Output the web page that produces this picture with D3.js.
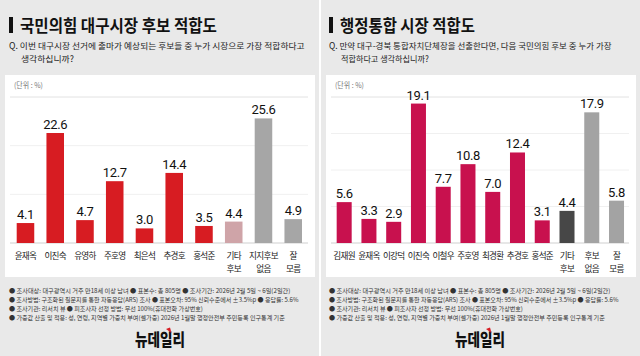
<!DOCTYPE html>
<html><head><meta charset="utf-8">
<script src="https://cdn.jsdelivr.net/npm/d3@7"></script>
<style>
html,body{margin:0;padding:0;background:#e9e9e9;}
svg{display:block;font-family:"Noto Sans CJK KR","Noto Sans",sans-serif;}
</style></head>
<body>
<svg id="chart" width="640" height="356"></svg>
<script>
// ---- data ----
const leftTitle = "국민의힘 대구시장 후보 적합도";
const leftQuestion = ["Q. 이번 대구시장 선거에 출마가 예상되는 후보들 중 누가 시장으로 가장 적합하다고", "생각하십니까?"];
const leftCategories = ["윤재옥","이진숙","유영하","주호영","최은석","추경호","홍석준","기타\n후보","지지후보\n없음","잘\n모름"];
const leftValues = [4.1, 22.6, 4.7, 12.7, 3.0, 14.4, 3.5, 4.4, 25.6, 4.9];
const leftColors = ["#d71c22","#d71c22","#d71c22","#d71c22","#d71c22","#d71c22","#d71c22","#cfa4a8","#a6a6a6","#a6a6a6"];

const rightTitle = "행정통합 시장 적합도";
const rightQuestion = ["Q. 만약 대구-경북 통합자치단체장을 선출한다면, 다음 국민의힘 후보 중 누가 가장", "적합하다고 생각하십니까?"];
const rightCategories = ["김재원","윤재옥","이강덕","이진숙","이철우","주호영","최경환","추경호","홍석준","기타\n후보","후보\n없음","잘\n모름"];
const rightValues = [5.6, 3.3, 2.9, 19.1, 7.7, 10.8, 7.0, 12.4, 3.1, 4.4, 17.9, 5.8];
const rightColors = ["#c8114e","#c8114e","#c8114e","#c8114e","#c8114e","#c8114e","#c8114e","#c8114e","#c8114e","#474747","#a3a3a3","#a3a3a3"];

const unitLabel = "(단위 : %)";
const footnotes = [
  "● 조사대상: 대구광역시 거주 만18세 이상 남녀 ● 표본수: 총 805명 ● 조사기간: 2026년 2월 5일 ~ 6일(2일간)",
  "● 조사방법: 구조화된 질문지를 통한 자동응답(ARS) 조사 ● 표본오차: 95% 신뢰수준에서 ±3.5%p ● 응답률: 5.6%",
  "● 조사기관: 리서치 뷰 ● 피조사자 선정 방법: 무선 100%(휴대전화 가상번호)",
  "● 가중값 산출 및 적용: 성, 연령, 지역별 가중치 부여(셀가중) 2026년 1월말 행정안전부 주민등록 인구통계 기준"
];
const footWidths = [281, 289, 194, 276];
const logoText = "뉴데일리";

const svg = d3.select("#chart");
svg.append("rect").attr("width",640).attr("height",356).attr("fill","#e9e9e9");
svg.append("rect").attr("x",319).attr("y",0).attr("width",2).attr("height",356).attr("fill","#ffffff");

// text squeezed horizontally to a given width via transform
function fitText(parent, x, y, txt, width, size, attrs, anchor){
  const wrap = parent.append("g");
  const t = wrap.append("text").attr("x",0).attr("y",0).attr("font-size",size).text(txt);
  Object.entries(attrs||{}).forEach(([k,v])=>t.attr(k,v));
  const len = t.node().getComputedTextLength();
  const s = width/len;
  const x0 = anchor==="middle" ? x - width/2 : x;
  wrap.attr("transform",`translate(${x0},${y}) scale(${s},1)`);
  return t;
}

function panel(opt){
  const g = svg.append("g").attr("transform",`translate(${opt.ox},0)`);
  // title
  g.append("rect").attr("x",9).attr("y",17).attr("width",4).attr("height",16).attr("fill","#111");
  fitText(g, 20, 31.5, opt.title, opt.titleW, 17, {"font-weight":700, fill:"#111"});
  // question
  fitText(g, 9, 49.2, opt.question[0], opt.q1W, 8.5, {fill:"#222"});
  fitText(g, 21, 61.7, opt.question[1], opt.q2W, 8.5, {fill:"#222"});
  // card
  g.append("rect").attr("x",opt.cardX).attr("y",75).attr("width",opt.cardW).attr("height",202).attr("fill","#fff");
  fitText(g, opt.cardX+9, 88, unitLabel, 29, 7.5, {fill:"#777"});

  const x = d3.scaleBand().domain(opt.categories).range(opt.xr)
    .paddingInner(opt.pad).paddingOuter(opt.pad/2);
  const y = d3.scaleLinear().domain([0,opt.ymax]).range([243,97]);

  // gridlines
  const gl = Array.from(new Set(y.ticks(3).concat([opt.ymax])));
  g.append("g").selectAll("line").data(gl)
    .join("line").attr("x1",opt.cardX+5).attr("x2",opt.cardX+opt.cardW-7)
    .attr("y1",d=>y(d)).attr("y2",d=>y(d))
    .attr("stroke",d=>d===0?"#cfcfcf":(d===opt.ymax?"#e2e2e2":"#f0f0f0")).attr("stroke-width",1);

  const data = opt.categories.map((c,i)=>({c, v:opt.values[i], col:opt.colors[i]}));
  g.append("g").selectAll("rect").data(data).join("rect")
    .attr("x",d=>x(d.c)).attr("width",x.bandwidth())
    .attr("y",d=>y(d.v)).attr("height",d=>y(0)-y(d.v)).attr("fill",d=>d.col);
  g.append("g").selectAll("text").data(data).join("text")
    .attr("x",d=>x(d.c)+x.bandwidth()/2).attr("y",d=>y(d.v)-4)
    .attr("text-anchor","middle").attr("font-size",13).attr("letter-spacing",-0.4)
    .attr("font-family","Roboto,'Noto Sans',sans-serif").attr("fill","#111")
    .text(d=>d.v.toFixed(1));
  // category labels
  const lab = g.append("g").selectAll("text").data(data).join("text")
    .attr("x",d=>x(d.c)+x.bandwidth()/2).attr("y",259)
    .attr("text-anchor","middle").attr("font-size",8.6).attr("letter-spacing",-0.7).attr("fill","#222");
  lab.each(function(d){
    const parts = d.c.split("\n");
    d3.select(this).selectAll("tspan").data(parts).join("tspan")
      .attr("x",x(d.c)+x.bandwidth()/2).attr("dy",(p,i)=>i===0?0:12.5).text(p=>p);
  });
  // footnotes
  footnotes.forEach((t,i)=>{
    fitText(g, 9, 293+i*9, t, footWidths[i], 6.2, {fill:"#333"});
  });
  // logo
  fitText(g, 160, 346, logoText, 50, 17, {"font-weight":900, fill:"#111"}, "middle");
  g.append("path").attr("d","M166,329 L170,327.5 L171.5,333 Z").attr("fill","#d71c22");
}

panel({ox:0, title:leftTitle, titleW:197, question:leftQuestion, q1W:296, q2W:53,
  cardX:5, cardW:310, categories:leftCategories, values:leftValues, colors:leftColors,
  xr:[10.6,308.1], pad:0.41, ymax:30});
panel({ox:320, title:rightTitle, titleW:135, question:rightQuestion, q1W:283, q2W:88,
  cardX:6, cardW:310, categories:rightCategories, values:rightValues, colors:rightColors,
  xr:[11.8,308.9], pad:0.394, ymax:20});
</script>
</body></html>
